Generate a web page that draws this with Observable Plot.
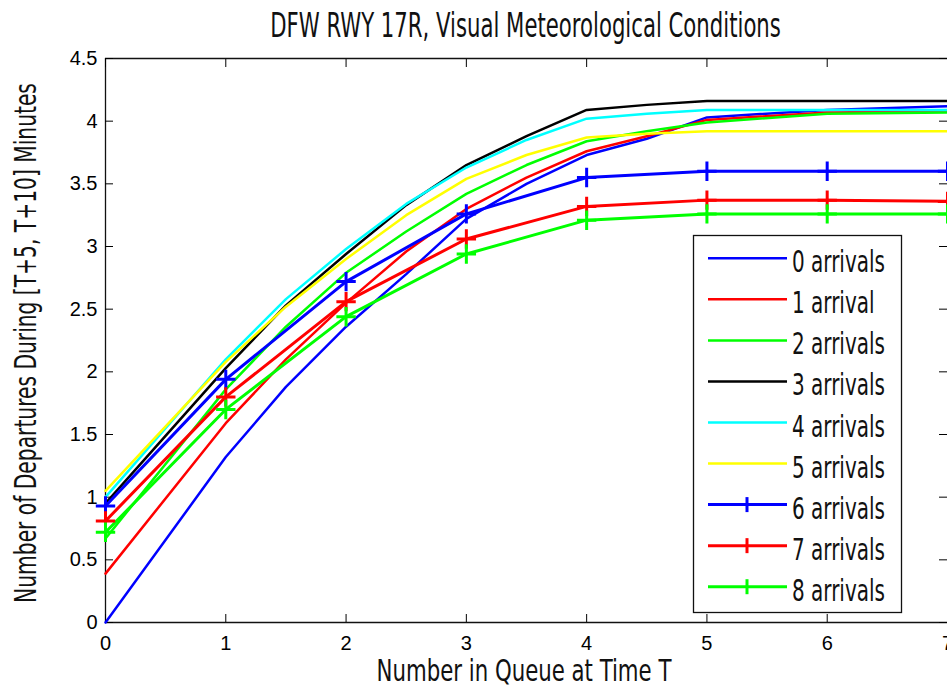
<!DOCTYPE html>
<html><head><meta charset="utf-8">
<script src="https://cdn.jsdelivr.net/npm/d3@7"></script>
<script src="https://cdn.jsdelivr.net/npm/@observablehq/plot@0.6"></script>
<style>
body{margin:0;background:#fff}
#c{width:947px;height:690px;overflow:hidden;position:relative}
</style>
</head><body><div id="c"></div>
<script>
// ---- data ----
const queueFine = [0, 1, 1.5, 2, 2.5, 3, 3.5, 4, 4.5, 5, 6, 7];
const queueInt  = [0, 1, 2, 3, 4, 5, 6, 7];
const arrivals0 = [0.00, 1.32, 1.88, 2.36, 2.78, 3.22, 3.50, 3.73, 3.86, 4.03, 4.09, 4.12];
const arrivals1 = [0.39, 1.59, 2.10, 2.55, 2.96, 3.30, 3.55, 3.76, 3.88, 4.01, 4.07, 4.08];
const arrivals2 = [0.67, 1.86, 2.36, 2.79, 3.12, 3.42, 3.65, 3.84, 3.92, 3.99, 4.06, 4.07];
const arrivals3 = [0.95, 2.03, 2.53, 2.94, 3.33, 3.65, 3.88, 4.09, 4.13, 4.16, 4.16, 4.16];
const arrivals4 = [1.00, 2.10, 2.58, 2.98, 3.34, 3.63, 3.85, 4.02, 4.06, 4.09, 4.09, 4.09];
const arrivals5 = [1.05, 2.08, 2.52, 2.90, 3.25, 3.54, 3.73, 3.87, 3.90, 3.92, 3.92, 3.92];
const arrivals6 = [0.93, 1.94, 2.72, 3.26, 3.55, 3.60, 3.60, 3.60];
const arrivals7 = [0.81, 1.80, 2.56, 3.06, 3.32, 3.37, 3.37, 3.36];
const arrivals8 = [0.72, 1.70, 2.44, 2.94, 3.21, 3.26, 3.26, 3.26];
const seriesNames = ["0 arrivals","1 arrival","2 arrivals","3 arrivals","4 arrivals","5 arrivals","6 arrivals","7 arrivals","8 arrivals"];
const seriesColors = ["#0000ff","#ff0000","#00ff00","#000000","#00ffff","#ffff00","#0000ff","#ff0000","#00ff00"];
const xTicks = [0,1,2,3,4,5,6,7];
const yTicks = [0,0.5,1,1.5,2,2.5,3,3.5,4,4.5];
const titleText = "DFW RWY 17R, Visual Meteorological Conditions";
const xLabel = "Number in Queue at Time T";
const yLabel = "Number of Departures During [T+5, T+10] Minutes";

// ---- tidy tables ----
const plainSeries = [arrivals0, arrivals1, arrivals2, arrivals3, arrivals4, arrivals5];
const markedSeries = [arrivals6, arrivals7, arrivals8];
const plainData = plainSeries.flatMap((vals, i) =>
  vals.map((v, j) => ({q: queueFine[j], v, s: seriesNames[i], c: seriesColors[i]})));
const markedData = markedSeries.flatMap((vals, i) =>
  vals.map((v, j) => ({q: queueInt[j], v, s: seriesNames[i + 6], c: seriesColors[i + 6]})));

const NARROW = "'Liberation Sans Narrow','Arial Narrow','DejaVu Sans Condensed','Liberation Sans',Arial,sans-serif";

const chart = Plot.plot({
  width: 947, height: 690,
  marginLeft: 105, marginRight: 0, marginTop: 58, marginBottom: 68,
  x: {domain: [0, 7]},
  y: {domain: [0, 4.5]},
  style: {fontFamily: "'Liberation Sans',Arial,sans-serif", fontSize: "20px", color: "#000", background: "#fff"},
  marks: [
    Plot.ruleY([0, 4.5], {stroke: "#111", strokeWidth: 1.3}),
    Plot.ruleX([0], {stroke: "#111", strokeWidth: 1.3}),
    Plot.axisX({anchor: "bottom", ticks: xTicks, tickSize: -8, tickPadding: 21, label: null, tickFormat: d => String(d), fontSize: 20}),
    Plot.axisX({anchor: "top", ticks: xTicks, tickSize: -8, label: null, tickFormat: () => ""}),
    Plot.axisY({anchor: "left", ticks: yTicks, tickSize: -8, tickPadding: 16, label: null, tickFormat: d => String(d), fontSize: 20}),
    Plot.axisY({anchor: "right", ticks: yTicks, tickSize: -9, label: null, tickFormat: () => ""}),
    Plot.line(plainData, {x: "q", y: "v", z: "s", stroke: "c", strokeWidth: 2.5}),
    Plot.line(markedData, {x: "q", y: "v", z: "s", stroke: "c", strokeWidth: 3}),
    Plot.dot(markedData, {x: "q", y: "v", symbol: "plus", r: 6.3, stroke: "c", strokeWidth: 3})
  ]
});
document.getElementById("c").appendChild(chart);

// ---- titles & legend (narrow text compressed horizontally to reference widths) ----
const svg = d3.select(chart);
function fitted(g, text, {x, y, width = null, k = null, size, anchor = "middle", rotate = 0}) {
  const t = g.append("text")
    .attr("text-anchor", anchor)
    .attr("font-family", NARROW)
    .attr("font-size", size)
    .attr("fill", "#111")
    .text(text);
  const natural = t.node().getComputedTextLength();
  const sx = width ? width / natural : (k || 1);
  t.attr("transform", `translate(${x},${y}) rotate(${rotate}) scale(${sx},1)`);
  return {t, natural, sx};
}
fitted(svg, titleText, {x: 525.5, y: 37, width: 511, size: 33});
fitted(svg, xLabel, {x: 524, y: 681, width: 295, size: 30});
fitted(svg, yLabel, {x: 36, y: 343, width: 520, size: 31, rotate: -90});

// legend
const lg = svg.append("g");
lg.append("rect").attr("x", 693.5).attr("y", 235.5).attr("width", 208).attr("height", 377)
  .attr("fill", "#fff").attr("stroke", "#111").attr("stroke-width", 1.3);
const probe = fitted(lg, seriesNames[0], {x: 0, y: 0, size: 30, anchor: "start"});
const k = 93 / probe.natural;
probe.t.remove();
seriesNames.forEach((name, i) => {
  const yy = 258.3 + i * 41.05;
  lg.append("line").attr("x1", 708).attr("x2", 787).attr("y1", yy).attr("y2", yy)
    .attr("stroke", seriesColors[i]).attr("stroke-width", i >= 6 ? 3 : 2.5);
  if (i >= 6) {
    lg.append("line").attr("x1", 747).attr("x2", 747).attr("y1", yy - 7.5).attr("y2", yy + 7.5)
      .attr("stroke", seriesColors[i]).attr("stroke-width", 3);
  }
  fitted(lg, name, {x: 792, y: yy + 14, k, size: 30, anchor: "start"});
});
</script>
</body></html>
